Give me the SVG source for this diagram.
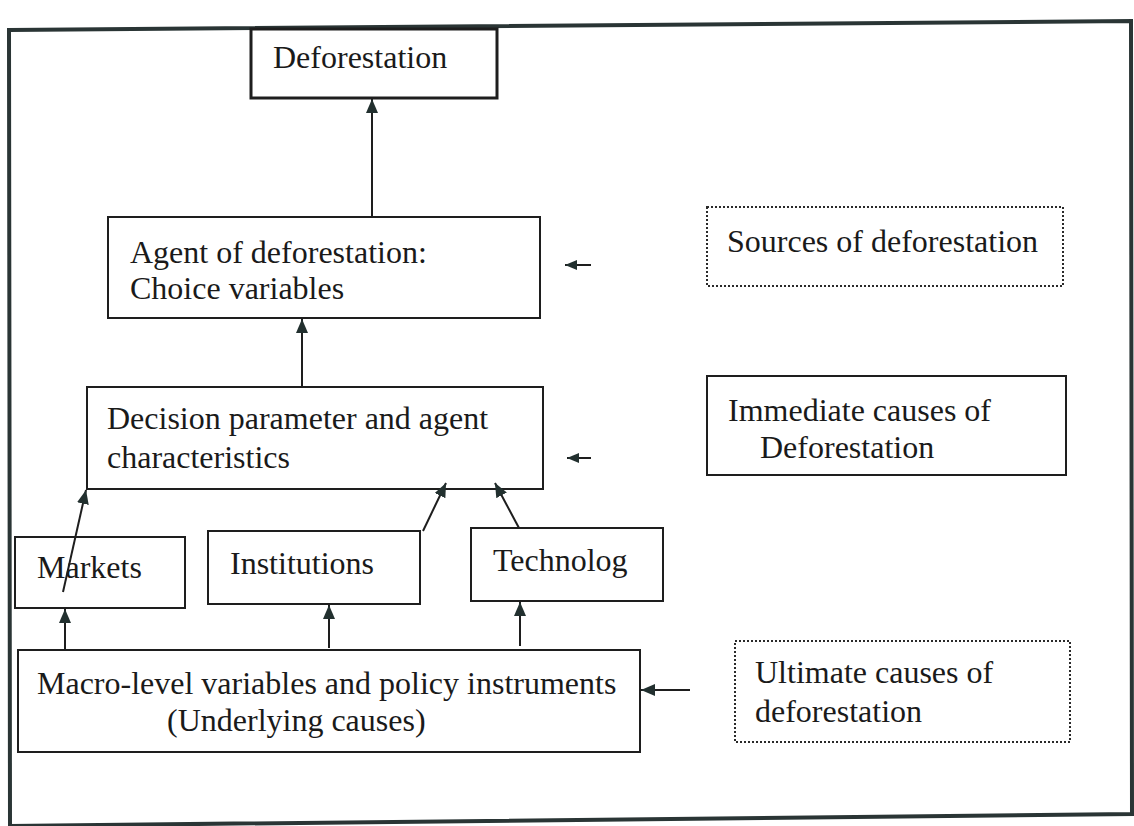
<svg xmlns="http://www.w3.org/2000/svg" width="1134" height="826" viewBox="0 0 1134 826">
  <style>
    .box { fill: #ffffff; stroke: #1e1e1e; stroke-width: 2; }
    .thick { stroke-width: 3; }
    .dotted { fill: #ffffff; stroke: #2a2a2a; stroke-width: 2; stroke-dasharray: 2 2; }
    .t { font-family: "Liberation Serif", "Times New Roman", serif; font-size: 32px; fill: #1a1a1a; }
    .conn { stroke: #1e1e1e; stroke-width: 2; fill: none; }
  </style>
  <defs>
    <marker id="ah" viewBox="0 0 14 12" refX="14" refY="6" markerWidth="14" markerHeight="12" markerUnits="userSpaceOnUse" orient="auto">
      <path d="M0,0 L14,6 L0,12 z" fill="#22302f"/>
    </marker>
    <marker id="ahs" viewBox="0 0 12 10" refX="12" refY="5" markerWidth="12" markerHeight="10" markerUnits="userSpaceOnUse" orient="auto">
      <path d="M0,0 L12,5 L0,10 z" fill="#22302f"/>
    </marker>
  </defs>

  <rect x="0" y="0" width="1134" height="826" fill="#ffffff"/>

  <!-- outer frame -->
  <path id="frame" d="M9,30 L1131,21 L1132,814 L10,826 Z" fill="none" stroke="#2a3535" stroke-width="4"/>

  <g id="n-deforestation">
    <rect class="box thick" x="251" y="29" width="246" height="69"/>
    <text class="t" x="273" y="68">Deforestation</text>
  </g>

  <g id="n-agent">
    <rect class="box" x="108" y="217" width="432" height="101"/>
    <text class="t" x="130" y="263">Agent of deforestation:</text>
    <text class="t" x="130" y="299">Choice variables</text>
  </g>

  <g id="n-sources">
    <rect class="dotted" x="707" y="207" width="356" height="79"/>
    <text class="t" x="727" y="252">Sources of deforestation</text>
  </g>

  <g id="n-decision">
    <rect class="box" x="87" y="387" width="456" height="102"/>
    <text class="t" x="107" y="429">Decision parameter and agent</text>
    <text class="t" x="107" y="468">characteristics</text>
  </g>

  <g id="n-immediate">
    <rect class="box" x="707" y="376" width="359" height="99"/>
    <text class="t" x="728" y="421">Immediate causes of</text>
    <text class="t" x="760" y="458">Deforestation</text>
  </g>

  <g id="n-markets">
    <rect class="box" x="15" y="537" width="170" height="71"/>
    <text class="t" x="37" y="578">Markets</text>
  </g>

  <g id="n-institutions">
    <rect class="box" x="208" y="531" width="212" height="73"/>
    <text class="t" x="230" y="574">Institutions</text>
  </g>

  <g id="n-technolog">
    <rect class="box" x="471" y="528" width="192" height="73"/>
    <text class="t" x="493" y="571">Technolog</text>
  </g>

  <g id="n-macro">
    <rect class="box" x="18" y="650" width="622" height="102"/>
    <text class="t" x="37" y="694">Macro-level variables and policy instruments</text>
    <text class="t" x="167" y="731">(Underlying causes)</text>
  </g>

  <g id="n-ultimate">
    <rect class="dotted" x="735" y="641" width="335" height="101"/>
    <text class="t" x="755" y="683">Ultimate causes of</text>
    <text class="t" x="755" y="722">deforestation</text>
  </g>

  <g id="connectors">
    <line class="conn" x1="372" y1="216" x2="372" y2="99" marker-end="url(#ah)"/>
    <line class="conn" x1="302" y1="387" x2="302" y2="319" marker-end="url(#ah)"/>
    <line class="conn" x1="63" y1="592" x2="86" y2="490" marker-end="url(#ah)"/>
    <line class="conn" x1="423" y1="531" x2="446" y2="483" marker-end="url(#ah)"/>
    <line class="conn" x1="519" y1="528" x2="495" y2="483" marker-end="url(#ah)"/>
    <line class="conn" x1="65" y1="650" x2="65" y2="609" marker-end="url(#ah)"/>
    <line class="conn" x1="329" y1="648" x2="329" y2="605" marker-end="url(#ah)"/>
    <line class="conn" x1="520" y1="646" x2="520" y2="602" marker-end="url(#ah)"/>
    <line class="conn" x1="690" y1="690" x2="641" y2="690" marker-end="url(#ah)"/>
    <line class="conn" x1="591" y1="265" x2="565" y2="265" marker-end="url(#ahs)"/>
    <line class="conn" x1="591" y1="458" x2="567" y2="458" marker-end="url(#ahs)"/>
  </g>
</svg>
